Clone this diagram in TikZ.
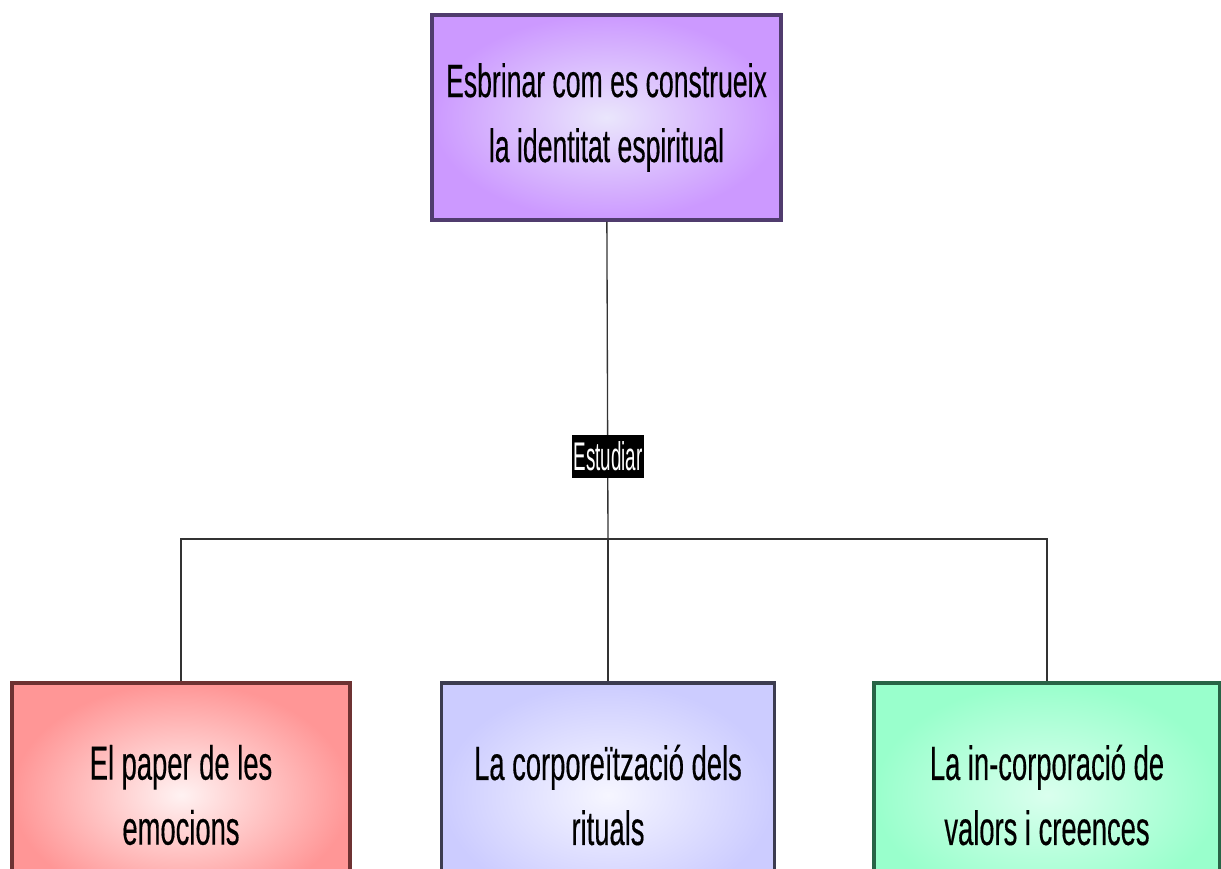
\documentclass[tikz,border=0pt]{standalone}
\usepackage{fontspec}
\newfontfamily\boxfont[FakeStretch=0.57,FakeBold=0.3]{Liberation Sans}
\newfontfamily\verbfont[FakeStretch=0.47]{Liberation Sans}
\definecolor{goalout}{RGB}{204,153,255}
\definecolor{goalin}{RGB}{234,230,252}
\definecolor{goalline}{RGB}{80,60,110}
\definecolor{emoout}{RGB}{255,150,150}
\definecolor{emoin}{RGB}{255,242,242}
\definecolor{emoline}{RGB}{110,50,50}
\definecolor{ritout}{RGB}{204,204,255}
\definecolor{ritin}{RGB}{246,246,255}
\definecolor{ritline}{RGB}{60,60,80}
\definecolor{valout}{RGB}{153,255,204}
\definecolor{valin}{RGB}{218,255,238}
\definecolor{valline}{RGB}{40,100,70}
\begin{document}
\begin{tikzpicture}[x=0.75pt,y=-0.75pt,
    box/.style={rectangle, line width=2.5pt, align=center,
        font=\boxfont\fontsize{36}{48.75}\selectfont},
    verb/.style={rectangle, fill=black, text=white, inner sep=0pt,
        minimum width=54pt, minimum height=32.25pt,
        font=\verbfont\fontsize{30}{30}\selectfont},
    link/.style={draw=black!80, line width=1pt}]
    \path[use as bounding box, clip] (0,0) rectangle (1221,868);

    \node[box, draw=goalline, inner color=goalin, outer color=goalout,
        minimum width=261.75pt, minimum height=153.75pt,
        font=\boxfont\fontsize{35}{48.75}\selectfont]
        (goal) at (606.5,117.5) {Esbrinar com es construeix\\la identitat espiritual};

    \foreach \name/\cx/\w/\txt in {emo/181/253.5/{El paper de les\\emocions},
        rit/608/249.75/{La corporeïtzació dels\\rituals},
        val/1047/259.5/{La in-corporació de\\valors i creences}}
    {
        \node[box, draw=\name line, inner color=\name in, outer color=\name out,
            minimum width=\w pt, minimum height=168pt]
            (\name) at (\cx,795) {\txt};
    }

    \coordinate (hub) at (608,539);
    \draw[link] (goal) -- (hub);
    \draw[link] (hub) -| (emo.north);
    \draw[link] (hub) -- (rit.north);
    \draw[link] (hub) -| (val.north);
    \node[verb] (study) at (608,456) {Estudiar};
\end{tikzpicture}
\end{document}
